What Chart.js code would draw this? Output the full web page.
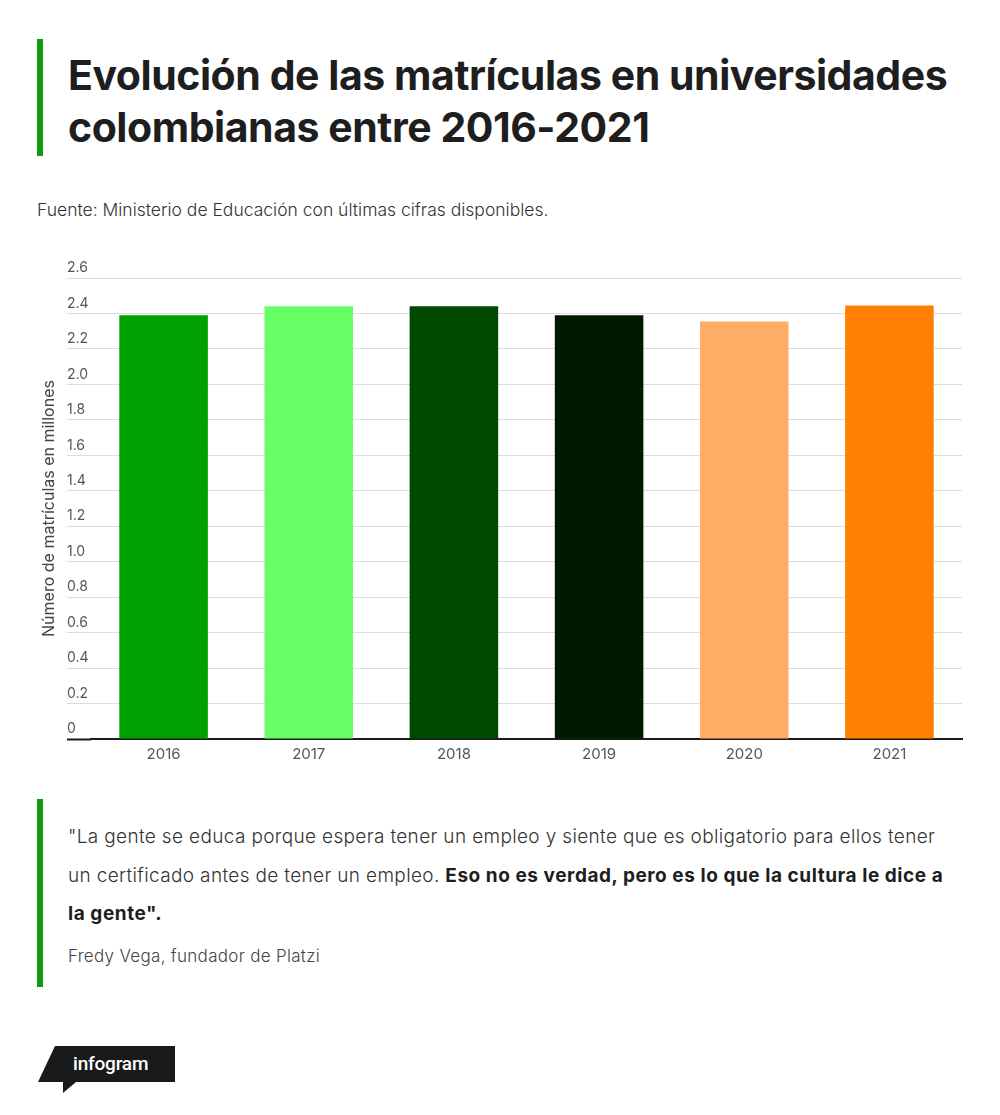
<!DOCTYPE html>
<html lang="es">
<head>
<meta charset="utf-8">
<title>Matrículas universidades Colombia 2016-2021</title>
<script src="https://cdn.jsdelivr.net/npm/chart.js@4.4.0/dist/chart.umd.min.js"></script>
<style>
  html, body { margin: 0; padding: 0; background: #fff; }
  body { width: 1000px; height: 1115px; position: relative; overflow: hidden; font-family: 'Inter', 'Noto Sans', sans-serif; color: #222; }
  .bar { position: absolute; left: 37px; width: 6px; background: #0f9a0f; }
  #title { position: absolute; left: 68px; top: 49px; margin: 0; font-size: 41px; line-height: 52px; font-weight: 700; letter-spacing: -0.45px; white-space: nowrap; color: #1e1e1e; }
  #source { position: absolute; left: 37px; top: 199px; font-size: 17.5px; font-weight: 300; letter-spacing: 0; color: #333; white-space: nowrap; }
  #chartBox { position: absolute; left: 0; top: 240px; width: 1000px; height: 540px; }
  #quote { position: absolute; left: 68px; top: 818px; font-size: 19px; line-height: 38.5px; font-weight: 300; letter-spacing: 0.35px; color: #333; white-space: nowrap; }
  #quote b { font-weight: 700; color: #1e1e1e; letter-spacing: 0.55px; }
  #author { position: absolute; left: 68px; top: 946px; font-size: 17px; font-weight: 300; letter-spacing: 0.3px; color: #444; white-space: nowrap; }
  #logo { position: absolute; left: 36px; top: 1044px; }
</style>
</head>
<body>
<div class="bar" style="top:39px;height:117px"></div>
<h1 id="title">Evolución de las matrículas en universidades<br>colombianas entre 2016-2021</h1>
<div id="source">Fuente: Ministerio de Educación con últimas cifras disponibles.</div>

<div id="chartBox"><canvas id="barChart"></canvas></div>

<div class="bar" style="top:799px;height:188px"></div>
<div id="quote">"La gente se educa porque espera tener un empleo y siente que es obligatorio para ellos tener<br>un certificado antes de tener un empleo. <b>Eso no es verdad, pero es lo que la cultura le dice a</b><br><b>la gente".</b></div>
<div id="author">Fredy Vega, fundador de Platzi</div>

<svg id="logo" width="142" height="52" viewBox="0 0 142 52">
  <polygon points="19,2 139,2 139,38 40,38 27,49 27,38 2,38" fill="#1a1a1a"/>
  <text x="37" y="26" fill="#fff" font-family="Roboto, sans-serif" font-weight="500" font-size="19" letter-spacing="-0.2">infogram</text>
</svg>

<script>
// datos (millones de matrículas)
var years = ['2016', '2017', '2018', '2019', '2020', '2021'];
var enrollments = [2.39, 2.44, 2.44, 2.39, 2.355, 2.445];
var barColors = ['#00a000', '#66ff66', '#004a00', '#001a00', '#ffad66', '#ff8000'];
var yMax = 2.6;
var yStep = 0.2;
var yTitle = 'Número de matrículas en millones';

Chart.defaults.font.family = "'Inter', 'Noto Sans', sans-serif";

var ctx = document.getElementById('barChart').getContext('2d');
var barChart = new Chart(ctx, {
    type: 'bar',
    data: {
        labels: years,
        datasets: [{
            label: yTitle,
            data: enrollments,
            backgroundColor: barColors,
            borderWidth: 0,
            categoryPercentage: 1,
            barPercentage: 0.61
        }]
    },
    options: {
        responsive: true,
        maintainAspectRatio: false,
        animation: false,
        layout: {
            padding: { top: 38, right: 38, bottom: 11, left: 0 }
        },
        plugins: {
            legend: { display: false },
            tooltip: { enabled: false }
        },
        scales: {
            x: {
                grid: { display: false, drawTicks: false },
                border: { display: true, color: '#1a1a1a', width: 2 },
                ticks: { color: '#555', font: { size: 15 }, padding: 6 }
            },
            y: {
                min: 0,
                max: yMax,
                weight: 0,
                border: { display: false },
                grid: {
                    color: '#dcdcdc',
                    lineWidth: 1,
                    tickLength: 24,
                    tickColor: function(c) { return c.tick && c.tick.value === 0 ? '#1a1a1a' : '#dcdcdc'; },
                    tickWidth: function(c) { return c.tick && c.tick.value === 0 ? 2 : 1; }
                },
                ticks: {
                    stepSize: yStep,
                    crossAlign: 'far',
                    labelOffset: -10,
                    color: '#555',
                    font: { size: 14 },
                    callback: function(v) { return v === 0 ? '0' : v.toFixed(1); }
                },
                afterFit: function(scale) { scale.width = 24; }
            },
            yTitleAxis: {
                position: 'left',
                weight: 1,
                display: true,
                grid: { display: false },
                border: { display: false },
                ticks: { display: false },
                title: {
                    display: true,
                    text: yTitle,
                    color: '#444',
                    font: { size: 16 },
                    padding: { top: 40, bottom: 0 }
                },
                afterFit: function(scale) { scale.width = 67; }
            }
        }
    }
});
</script>
</body>
</html>
